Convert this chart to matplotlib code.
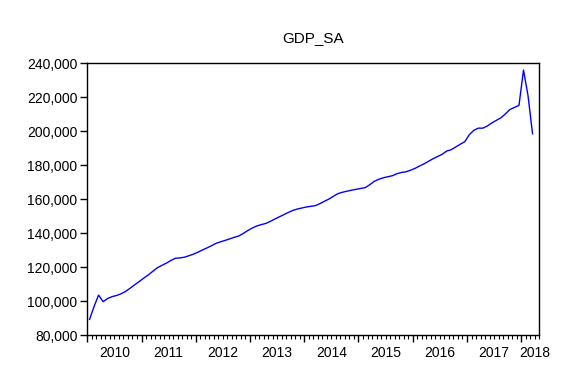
import numpy as np
import matplotlib
matplotlib.use("Agg")
import matplotlib.pyplot as plt
from matplotlib.ticker import FuncFormatter, MultipleLocator

# Monthly GDP (seasonally adjusted), 2010M1 - 2018M3
gdp_sa = [
    89200, 96800, 103500, 99600, 101500, 102600, 103300, 104300, 105700, 107600,
    109600, 111500, 113500, 115400, 117500, 119600, 121000, 122300, 123900, 125200,
    125400, 125800, 126700, 127600, 128800, 130100, 131300, 132600, 134000, 134900,
    135700, 136600, 137500, 138300, 139800, 141500, 143000, 144200, 145000, 145700,
    146900, 148300, 149600, 150900, 152200, 153400, 154200, 154800, 155400, 155800,
    156200, 157400, 158800, 160100, 161800, 163300, 164100, 164700, 165300, 165800,
    166300, 166800, 168500, 170500, 171700, 172600, 173200, 173800, 175000, 175700,
    176100, 177000, 178100, 179500, 180800, 182300, 183800, 185100, 186400, 188300,
    189100, 190700, 192300, 193800, 197900, 200500, 201800, 201800, 203100, 204900,
    206400, 207900, 210200, 212800, 214000, 215200, 236000, 221000, 198500,
]
years = [2010, 2011, 2012, 2013, 2014, 2015, 2016, 2017, 2018]
y_ticks = [80000, 100000, 120000, 140000, 160000, 180000, 200000, 220000, 240000]
title = "GDP_SA"

plt.rcParams["font.family"] = ["Liberation Sans", "DejaVu Sans"]

fig = plt.figure(figsize=(5.85, 3.84), dpi=100)
ax = fig.add_axes([0.1492, 0.1276, 0.9219 - 0.1492, 0.8352 - 0.1276])

# observations sit in the middle of each month
x = np.arange(len(gdp_sa)) + 0.5
ax.plot(x, gdp_sa, color="#0000ff", lw=1.0)

ax.set_xlim(0, 100)
ax.set_ylim(80000, 240000)

# y axis
ax.set_yticks(y_ticks)
ax.yaxis.set_major_formatter(FuncFormatter(lambda v, p: f"{int(v):,}"))
ax.tick_params(axis="y", direction="out", length=5, width=1, labelsize=10, pad=2)

# x axis: year boundaries (long ticks), months (short ticks)
ax.xaxis.set_major_locator(MultipleLocator(12))
ax.xaxis.set_minor_locator(MultipleLocator(1))
ax.tick_params(axis="x", which="major", direction="out", length=5, width=1, labelbottom=False)
ax.tick_params(axis="x", which="minor", direction="out", length=3, width=0.8)

# year labels centred in each year (last one squeezed to the right edge)
for k, yr in enumerate(years):
    pos = k * 12 + 6
    if yr == years[-1]:
        pos = 99
    ax.text(pos, -0.065, str(yr), transform=ax.get_xaxis_transform(),
            ha="center", va="center", fontsize=10)

for s in ax.spines.values():
    s.set_linewidth(1.0)
    s.set_color("black")

fig.text((0.1492 + 0.9219) / 2, 1 - 38 / 384, title, ha="center", va="center", fontsize=11)

fig.savefig("out.png", dpi=100)
